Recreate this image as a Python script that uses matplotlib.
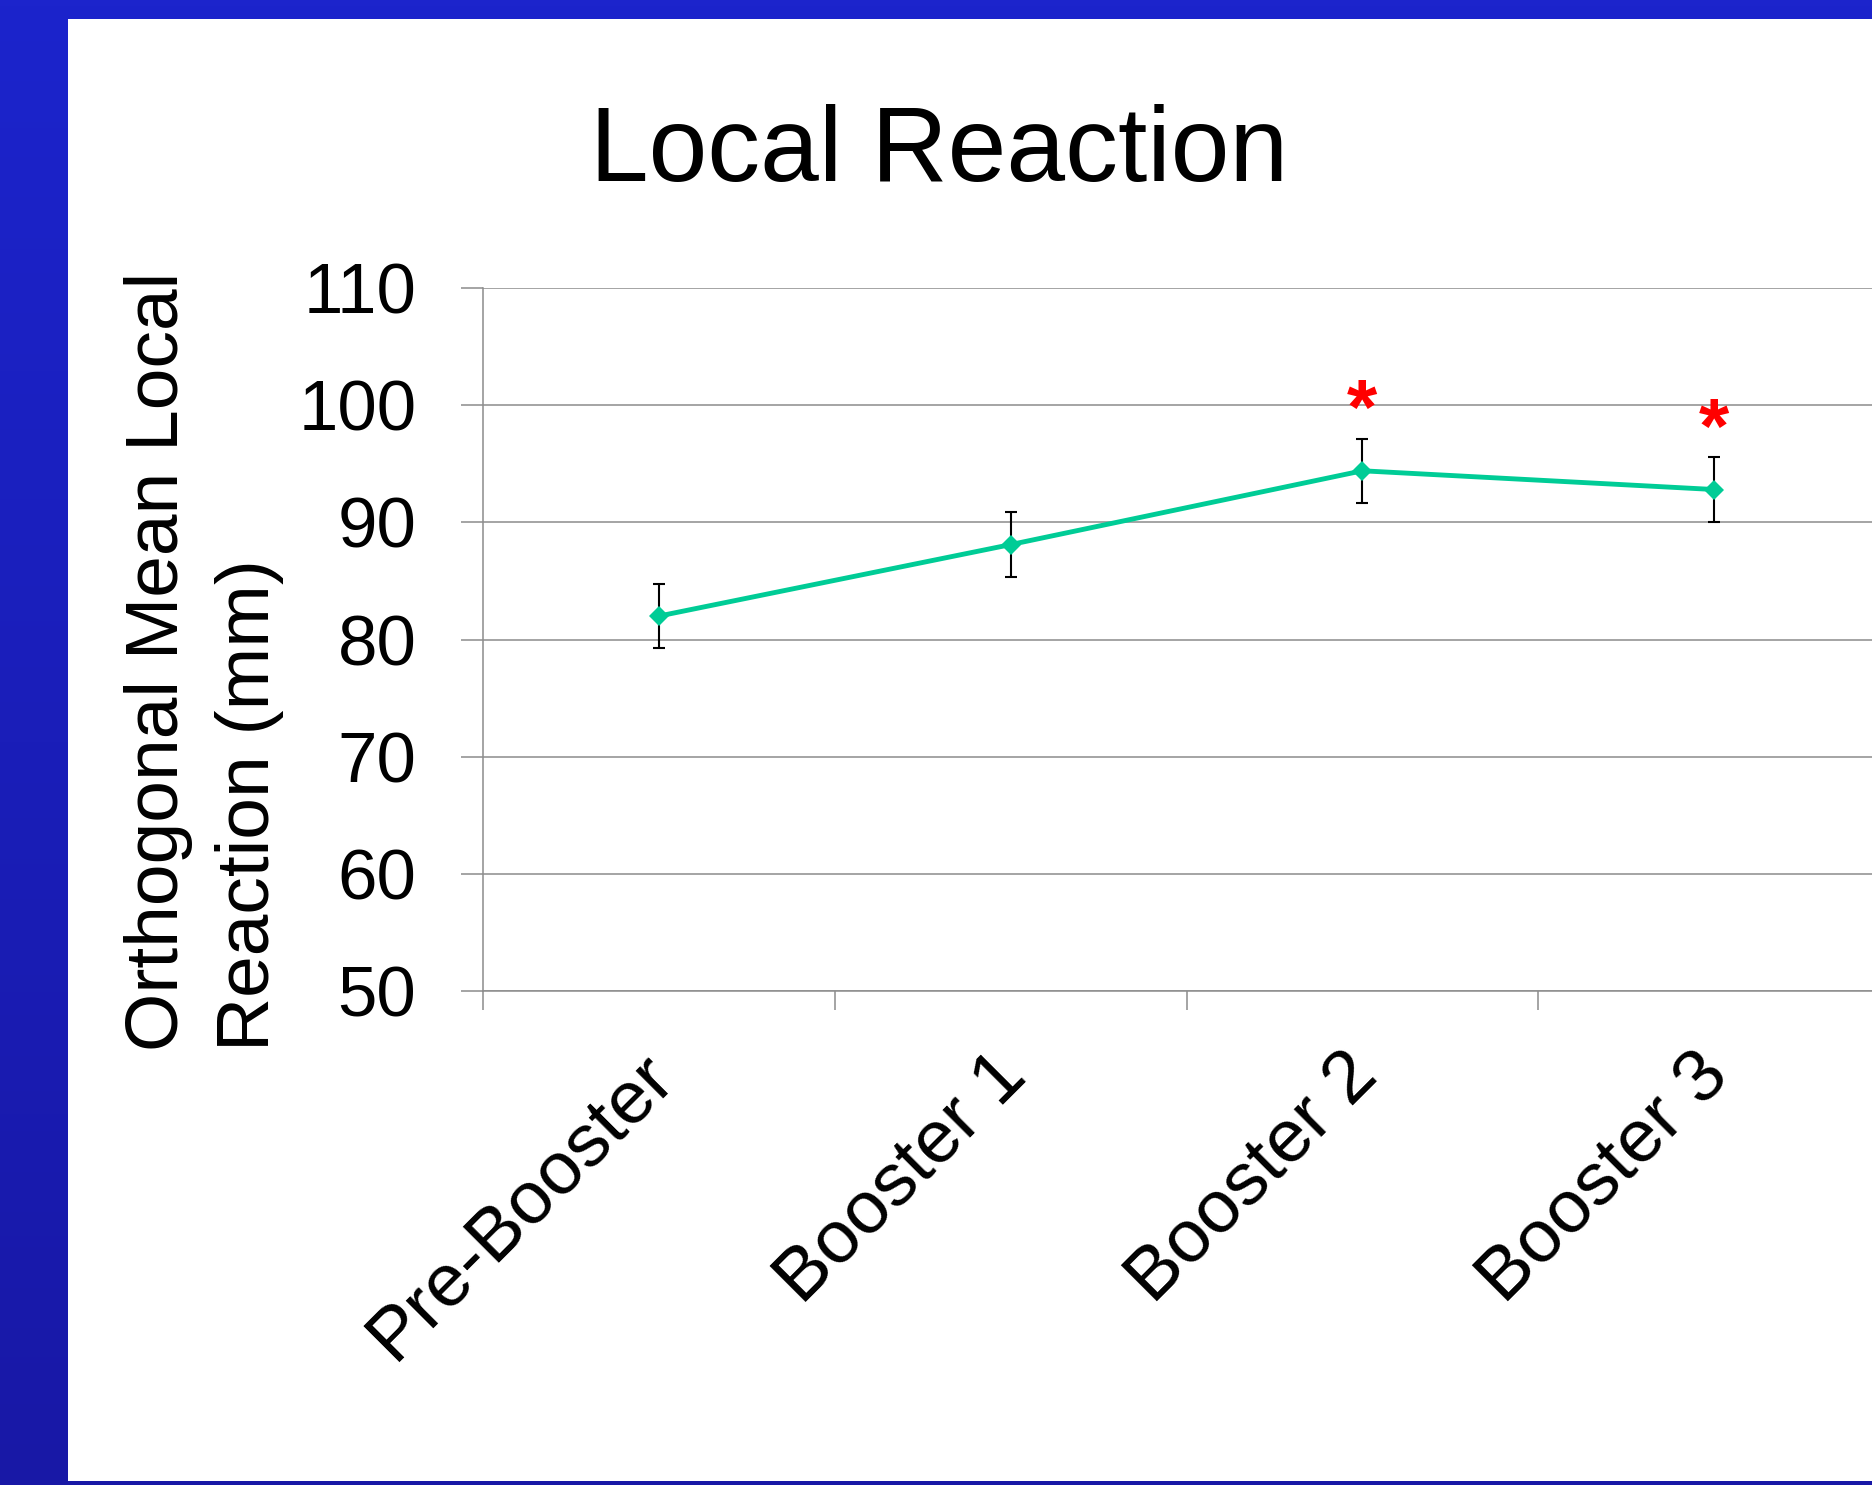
import matplotlib
matplotlib.use("Agg")
import matplotlib.pyplot as plt
import numpy as np
from matplotlib.patches import Rectangle
from matplotlib.transforms import ScaledTranslation

plt.rcParams["font.family"] = ["Liberation Sans", "DejaVu Sans"]

# data
CATEGORIES = ["Pre-Booster", "Booster 1", "Booster 2", "Booster 3"]
MEAN_REACTION = [82.0, 88.1, 94.4, 92.8]
ERROR = [2.75, 2.8, 2.75, 2.75]
SIGNIFICANT = [False, False, True, True]
Y_TICKS = [50, 60, 70, 80, 90, 100, 110]

TITLE = "Local Reaction"
Y_LABEL = "Orthogonal Mean Local\nReaction (mm)"

LINE_COLOR = "#00CC96"
GRID_COLOR = "#8c8c8c"
FRAME_TOP = "#1c24cc"
FRAME_BOTTOM = "#1818a6"

W, H = 1872, 1485
fig = plt.figure(figsize=(W / 100, H / 100), dpi=100)

# slide frame: blue gradient behind a white panel
bg = fig.add_axes([0, 0, 1, 1], zorder=-10)
grad = np.linspace(0, 1, 256).reshape(-1, 1)
cmap = matplotlib.colors.LinearSegmentedColormap.from_list("frame", [FRAME_TOP, FRAME_BOTTOM])
bg.imshow(grad, aspect="auto", cmap=cmap, extent=(0, W, H, 0))
bg.add_patch(Rectangle((68, 19), W - 68, 1481 - 19, facecolor="white", edgecolor="none"))
bg.set_xlim(0, W)
bg.set_ylim(H, 0)
bg.axis("off")

ax = fig.add_axes([483 / W, (H - 991) / H, 1407 / W, 703 / H])
ax.set_facecolor("none")

x = np.arange(len(CATEGORIES))
ax.errorbar(x, MEAN_REACTION, yerr=ERROR, fmt="none", ecolor="black",
            elinewidth=1.5, capsize=4.5, capthick=1.5, zorder=3)
ax.plot(x, MEAN_REACTION, color=LINE_COLOR, linewidth=3.5, marker="D",
        markersize=10.5, markeredgewidth=0, zorder=4)

for i, sig in enumerate(SIGNIFICANT):
    if not sig:
        continue
    ax.annotate("*", xy=(x[i], MEAN_REACTION[i] + ERROR[i]), xytext=(0, 3),
                textcoords="offset points", ha="center", va="baseline",
                fontsize=56, fontweight="bold", color="#ff0000", zorder=5)

ax.set_xlim(-0.5, len(CATEGORIES) - 0.5)
ax.set_ylim(Y_TICKS[0], Y_TICKS[-1])
ax.set_yticks(Y_TICKS)
ax.yaxis.grid(True, color=GRID_COLOR, linewidth=1.1)
ax.set_axisbelow(True)

for side in ["top", "right"]:
    ax.spines[side].set_visible(False)
for side in ["left", "bottom"]:
    ax.spines[side].set_color(GRID_COLOR)
    ax.spines[side].set_linewidth(1.1)

ax.tick_params(axis="y", length=16, width=1.1, color=GRID_COLOR, pad=32, labelsize=51)

# category boundaries as major ticks, category names as minor tick labels
ax.set_xticks(np.arange(len(CATEGORIES) + 1) - 0.5)
ax.set_xticklabels([])
ax.tick_params(axis="x", which="major", length=14, width=1.1, color=GRID_COLOR)
ax.set_xticks(x, minor=True)
ax.set_xticklabels(CATEGORIES, minor=True, rotation=45, ha="right",
                   va="center", rotation_mode="anchor", fontsize=54)
ax.tick_params(axis="x", which="minor", length=0, pad=53)
shift = ScaledTranslation(0.04, 0, fig.dpi_scale_trans)
for label in ax.get_xticklabels(minor=True):
    label.set_transform(label.get_transform() + shift)

fig.text(939.5 / W, (H - 181.5) / H, TITLE, ha="center", va="baseline", fontsize=76)
fig.text(204 / W, (H - 1051) / H, Y_LABEL, rotation=90, ha="center", va="bottom",
         multialignment="left", fontsize=54, linespacing=1.4)

fig.savefig("out.png", dpi=100)
